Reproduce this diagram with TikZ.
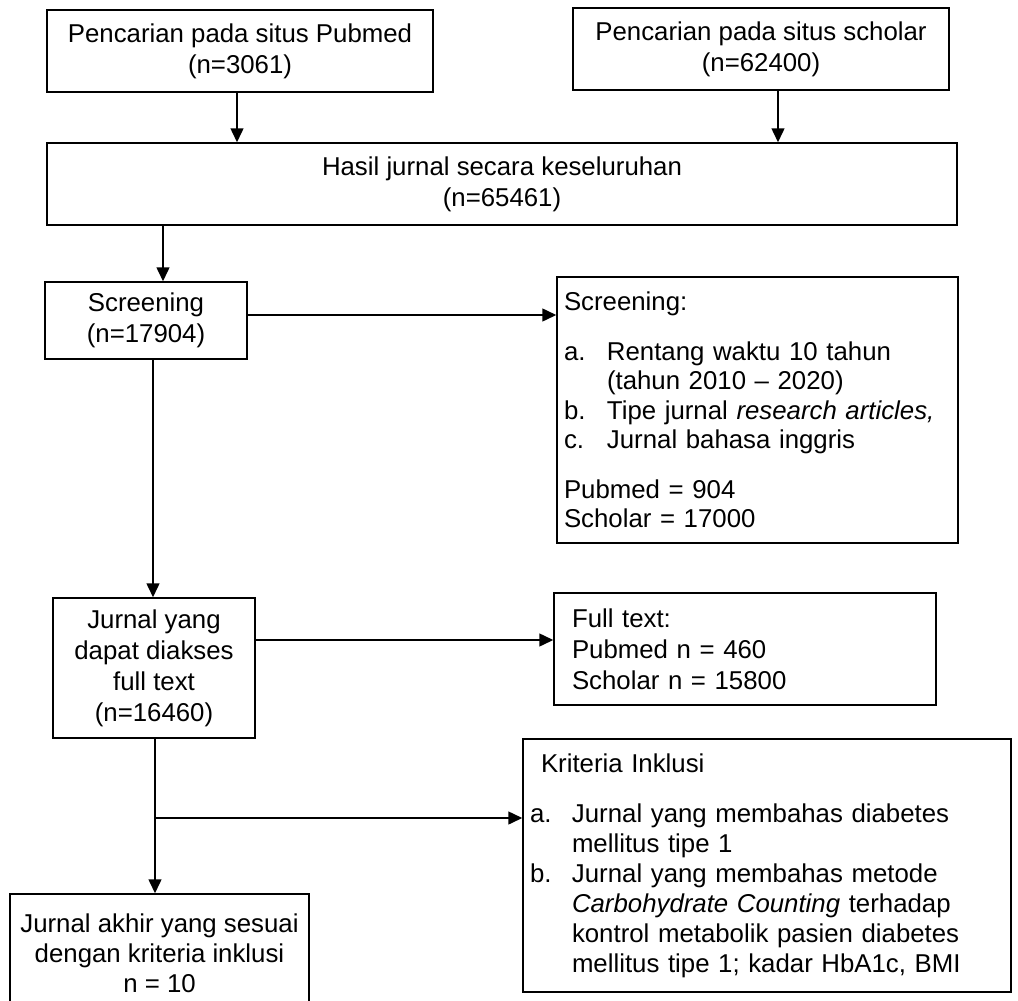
\documentclass[tikz,border=0pt]{standalone}
\usepackage{fontspec}
\setmainfont{Liberation Sans}
\usetikzlibrary{arrows.meta}
\begin{document}
\begin{tikzpicture}[x=1pt,y=-1pt,
  box/.style={draw, line width=1.5pt, inner sep=0pt, font=\fontsize{25.8}{31}\selectfont},
  cbox/.style={box, align=center},
  lbox/.style={box, align=left, inner xsep=7pt},
  arr/.style={line width=1.5pt, -{Triangle[length=14pt,width=13pt]}}]
\useasboundingbox (0,0) rectangle (1018,1001);
\clip (0,0) rectangle (1018,1001);

\node[cbox, minimum width=386pt, minimum height=82pt] (pub) at (240,51) {Pencarian pada situs Pubmed\\(n=3061)};
\node[cbox, minimum width=376pt, minimum height=82pt] (sch) at (761,49) {Pencarian pada situs scholar\\(n=62400)};
\node[cbox, minimum width=910pt, minimum height=82pt] (hasil) at (502,184) {Hasil jurnal secara keseluruhan\\(n=65461)};
\node[cbox, minimum width=202pt, minimum height=77pt] (scr) at (146,320.5) {Screening\\(n=17904)};
\node[lbox, text width=387pt, minimum height=266pt, font=\fontsize{25.8}{29.5}\selectfont] (scrR) at (757.5,410) {Screening:\\[20pt]
\makebox[43pt][l]{a.}Rentang waktu 10 tahun\\
\hspace*{43pt}(tahun 2010 – 2020)\\
\makebox[43pt][l]{b.}Tipe jurnal \textit{research articles,}\\
\makebox[43pt][l]{c.}Jurnal bahasa inggris\\[20pt]
Pubmed = 904\\
Scholar = 17000};
\node[cbox, minimum width=202pt, minimum height=140pt] (ft) at (154,668) {Jurnal yang\\dapat diakses\\full text\\(n=16460)};
\node[lbox, inner xsep=18pt, text width=346pt, minimum height=112pt] (ftR) at (745,649) {Full text:\\Pubmed n = 460\\Scholar n = 15800};
\node[lbox, text width=474pt, minimum height=253pt, font=\fontsize{25.8}{30}\selectfont] (kri) at (767,865.5) {\hspace*{11pt}Kriteria Inklusi\\[20pt]
\makebox[42pt][l]{a.}Jurnal yang membahas diabetes\\
\hspace*{42pt}mellitus tipe 1\\
\makebox[42pt][l]{b.}Jurnal yang membahas metode\\
\hspace*{42pt}\textit{Carbohydrate Counting} terhadap\\
\hspace*{42pt}kontrol metabolik pasien diabetes\\
\hspace*{42pt}mellitus tipe 1; kadar HbA1c, BMI};
\node[cbox, minimum width=299pt, minimum height=118pt, font=\fontsize{25.8}{30}\selectfont] (akhir) at (159.5,953) {Jurnal akhir yang sesuai\\dengan kriteria inklusi\\n = 10};

\coordinate (xp) at (237,0);
\coordinate (xs) at (778,0);
\coordinate (xa) at (163,0);
\coordinate (xb) at (153,0);
\coordinate (xc) at (155,0);
\coordinate (ys) at (0,315);
\coordinate (yf) at (0,640);
\coordinate (yk) at (0,818);

\draw[arr] (pub.south -| xp) -- (hasil.north -| xp);
\draw[arr] (sch.south -| xs) -- (hasil.north -| xs);
\draw[arr] (hasil.south -| xa) -- (scr.north -| xa);
\draw[arr] (scr.east |- ys) -- (scrR.west |- ys);
\draw[arr] (scr.south -| xb) -- (ft.north -| xb);
\draw[arr] (ft.east |- yf) -- (ftR.west |- yf);
\draw[arr] (ft.south -| xc) -- (akhir.north -| xc);
\draw[arr] (xc |- yk) -- (kri.west |- yk);
\end{tikzpicture}
\end{document}
